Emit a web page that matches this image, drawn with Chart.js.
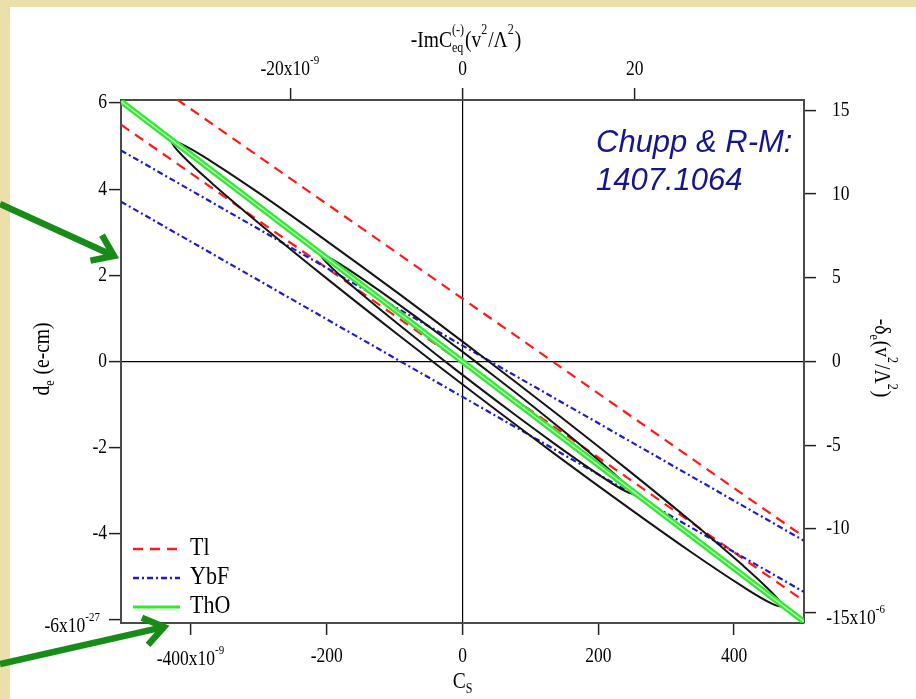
<!DOCTYPE html>
<html><head><meta charset="utf-8">
<script src="https://cdn.jsdelivr.net/npm/chart.js@4/dist/chart.umd.min.js"></script>
<style>html,body{margin:0;padding:0;background:#fff;overflow:hidden}#wrap{width:916px;height:699px}</style>
</head><body><div id="wrap"><canvas id="c" width="916" height="699"></canvas></div>
<script>
// ---------- data ----------
const seriesNames = ['Tl', 'YbF', 'ThO'];
const lineCs   = [-503, 503];             // C_S end values of the straight bands
const tlUpper  = [6.99, -4.07];           // d_e at the two ends
const tlLower  = [5.50, -5.56];
const ybfUpper = [4.90, -4.16];
const ybfLower = [3.71, -5.35];
const thoLine  = [6.04, -6.04];

const bigEllipseCs = [21.4, -94.9, -203.4, -296.4, -367.9, -412.8, -428.1, -412.8, -367.9, -296.4, -203.4, -94.9, 21.4, 137.7, 246.2, 339.2, 410.7, 455.6, 470.9, 455.6, 410.7, 339.2, 246.2, 137.7, 21.4];
const bigEllipseDe = [0.210, 1.587, 2.836, 3.872, 4.623, 5.040, 5.095, 4.782, 4.123, 3.164, 1.970, 0.621, -0.790, -2.167, -3.416, -4.452, -5.203, -5.620, -5.675, -5.362, -4.703, -3.744, -2.550, -1.201, 0.210];
const medEllipseCs = [20.6, -38.7, -94.0, -141.5, -177.9, -200.8, -208.6, -200.8, -177.9, -141.5, -94.0, -38.7, 20.6, 79.9, 135.2, 182.7, 219.1, 242.0, 249.8, 242.0, 219.1, 182.7, 135.2, 79.9, 20.6];
const medEllipseDe = [-0.020, 0.686, 1.325, 1.854, 2.237, 2.448, 2.472, 2.308, 1.967, 1.472, 0.857, 0.164, -0.560, -1.266, -1.905, -2.434, -2.817, -3.028, -3.052, -2.888, -2.547, -2.052, -1.437, -0.744, -0.020];

const bottomTicks  = [-400, -200, 0, 200, 400];
const bottomLabels = ['-400x10^-9', '-200', '0', '200', '400'];
const topTicks     = [-20, 0, 20];
const topLabels    = ['-20x10^-9', '0', '20'];
const leftTicks    = [6, 4, 2, 0, -2, -4, -6];
const leftLabels   = ['6', '4', '2', '0', '-2', '-4', '-6x10^-27'];
const rightTicks   = [15, 10, 5, 0, -5, -10, -15];
const rightLabels  = ['15', '10', '5', '0', '-5', '-10', '-15x10^-6'];
const annotationLines = ['Chupp & R-M:', '1407.1064'];

// ---------- helpers ----------
const SERIF = '"Liberation Serif", "Times New Roman", serif';
const zip = (xs, ys) => xs.map((x, i) => ({x: x, y: ys[i]}));
function segsFromLabel(l) { const i = l.indexOf('^'); return i < 0 ? [{t: l}] : [{t: l.slice(0, i)}, {sup: l.slice(i + 1)}]; }
function drawRich(ctx, segs, x, y, size, align, stretch) {
  const small = Math.round(size * 0.62);
  ctx.save();
  ctx.translate(x, y); ctx.scale(1, stretch || 1);
  ctx.textBaseline = 'middle'; ctx.textAlign = 'left';
  const ws = []; let total = 0;
  for (const s of segs) {
    let w;
    if (s.t !== undefined) { ctx.font = size + 'px ' + SERIF; w = ctx.measureText(s.t).width; }
    else { ctx.font = small + 'px ' + SERIF; w = Math.max(s.sup ? ctx.measureText(s.sup).width : 0, s.sub ? ctx.measureText(s.sub).width : 0) + 1; }
    ws.push(w); total += w;
  }
  let cx = align === 'center' ? -total / 2 : (align === 'right' ? -total : 0);
  segs.forEach((s, i) => {
    if (s.t !== undefined) { ctx.font = size + 'px ' + SERIF; ctx.fillText(s.t, cx, 0); }
    else {
      ctx.font = small + 'px ' + SERIF;
      if (s.sup) ctx.fillText(s.sup, cx, -size * 0.45);
      if (s.sub) ctx.fillText(s.sub, cx, size * 0.32);
    }
    cx += ws[i];
  });
  ctx.restore();
  return total;
}

const RED = '#ff1a1a', BLUE = '#1c1cc8', GREEN = '#30ea30', GREEN_HI = '#baf5ba';
const TL_DASH = [10, 7], YBF_DASH = [6, 3, 2, 3];

// ---------- plugin for background, labels, titles, legend, annotations ----------
const decor = {
  id: 'decor',
  beforeDraw(chart) {
    const ctx = chart.ctx;
    ctx.save();
    ctx.fillStyle = '#ffffff'; ctx.fillRect(0, 0, 916, 699);
    ctx.fillStyle = '#ebe0a9';
    ctx.fillRect(0, 0, 916, 7);
    ctx.fillRect(0, 0, 10, 699);
    ctx.restore();
  },
  afterDraw(chart) {
    const ctx = chart.ctx, s = chart.scales;
    const FS = 17.5, ST = 1.18, TS = 19.5;
    ctx.save();
    ctx.fillStyle = '#000';
    bottomTicks.forEach((v, i) => {
      const lb = bottomLabels[i], ex = lb.includes('^');
      drawRich(ctx, segsFromLabel(lb), s.x.getPixelForValue(v), ex ? 660 : 657, FS, 'center', ST);
    });
    topTicks.forEach((v, i) => {
      drawRich(ctx, segsFromLabel(topLabels[i]), s.x2.getPixelForValue(v), 70, FS, 'center', ST);
    });
    leftTicks.forEach((v, i) => {
      const lb = leftLabels[i], ex = lb.includes('^');
      drawRich(ctx, segsFromLabel(lb), ex ? 101 : 107, s.y.getPixelForValue(v) + (ex ? 7 : 0), FS, 'right', ST);
    });
    ctx.font = FS + 'px ' + SERIF;
    const minusW = ctx.measureText('-').width;
    rightTicks.forEach((v, i) => {
      const lb = rightLabels[i], ex = lb.includes('^');
      drawRich(ctx, segsFromLabel(lb), 832 - (lb[0] === '-' ? minusW : 0), s.y2.getPixelForValue(v) + (ex ? 6 : 0), FS, 'left', ST);
    });
    // axis titles
    drawRich(ctx, [{t: '-ImC'}, {sub: 'eq', sup: '(-)'}, {t: '(v'}, {sup: '2'}, {t: '/Λ'}, {sup: '2'}, {t: ')'}], 466, 41, TS, 'center', ST);
    drawRich(ctx, [{t: 'C'}, {sub: 'S'}], 463, 682, TS, 'center', ST);
    ctx.save(); ctx.translate(43, 359); ctx.rotate(-Math.PI / 2);
    drawRich(ctx, [{t: 'd'}, {sub: 'e'}, {t: ' (e-cm)'}], 0, 0, TS, 'center', ST);
    ctx.restore();
    ctx.save(); ctx.translate(881, 358); ctx.rotate(Math.PI / 2);
    drawRich(ctx, [{t: '-δ'}, {sub: 'e'}, {t: '(v'}, {sup: '2'}, {t: '/Λ'}, {sup: '2'}, {t: ')'}], 0, 0, TS, 'center', ST);
    ctx.restore();

    // legend
    const lx0 = 133, lx1 = 180, ly = [549, 578, 607];
    const styles = [{c: RED, d: TL_DASH, w: 2.5}, {c: BLUE, d: YBF_DASH, w: 2.5}, {c: GREEN, d: [], w: 3}];
    seriesNames.forEach((n, i) => {
      ctx.save();
      ctx.strokeStyle = styles[i].c; ctx.lineWidth = styles[i].w; ctx.setLineDash(styles[i].d);
      ctx.beginPath(); ctx.moveTo(lx0, ly[i]); ctx.lineTo(lx1, ly[i]); ctx.stroke();
      ctx.restore();
      drawRich(ctx, [{t: n}], 190, ly[i], 22, 'left', 1.12);
    });

    // annotation text
    ctx.fillStyle = '#16168c';
    ctx.font = 'italic 31px "Liberation Sans", Arial, sans-serif';
    ctx.textBaseline = 'alphabetic'; ctx.textAlign = 'left';
    ctx.fillText(annotationLines[0], 596, 152);
    ctx.fillText(annotationLines[1], 596, 190);

    // green arrows
    function arrow(x0, y0, x1, y1) {
      const a = Math.atan2(y1 - y0, x1 - x0), L = 24, h = 0.62;
      ctx.save();
      ctx.strokeStyle = '#178c17'; ctx.lineWidth = 6.5; ctx.lineCap = 'butt'; ctx.lineJoin = 'miter';
      ctx.beginPath(); ctx.moveTo(x0, y0); ctx.lineTo(x1 - 3 * Math.cos(a), y1 - 3 * Math.sin(a)); ctx.stroke();
      ctx.beginPath();
      ctx.moveTo(x1 - L * Math.cos(a - h), y1 - L * Math.sin(a - h));
      ctx.lineTo(x1, y1);
      ctx.lineTo(x1 - L * Math.cos(a + h), y1 - L * Math.sin(a + h));
      ctx.stroke();
      ctx.restore();
    }
    arrow(0, 204, 114, 256);
    arrow(0, 664, 164, 627);
    ctx.restore();
  }
};

// ---------- chart ----------
const common = {pointRadius: 0, pointHoverRadius: 0, showLine: true, clip: 0, fill: false};
const datasets = [
  Object.assign({label: 'ThO', data: zip(lineCs, thoLine), borderColor: GREEN_HI, borderWidth: 1.5, order: 0}, common),
  Object.assign({label: 'ThO', data: zip(lineCs, thoLine), borderColor: GREEN, borderWidth: 6, order: 1}, common),
  Object.assign({label: 'ellipse', data: zip(bigEllipseCs, bigEllipseDe), borderColor: '#151515', borderWidth: 2, tension: 0.4, order: 2}, common),
  Object.assign({label: 'ellipse', data: zip(medEllipseCs, medEllipseDe), borderColor: '#151515', borderWidth: 2, tension: 0.4, order: 2}, common),
  Object.assign({label: 'YbF', data: zip(lineCs, ybfUpper), borderColor: BLUE, borderWidth: 2.2, borderDash: YBF_DASH, order: 3}, common),
  Object.assign({label: 'YbF', data: zip(lineCs, ybfLower), borderColor: BLUE, borderWidth: 2.2, borderDash: YBF_DASH, order: 3}, common),
  Object.assign({label: 'Tl', data: zip(lineCs, tlUpper), borderColor: RED, borderWidth: 2.2, borderDash: TL_DASH, order: 4}, common),
  Object.assign({label: 'Tl', data: zip(lineCs, tlLower), borderColor: RED, borderWidth: 2.2, borderDash: TL_DASH, order: 4}, common)
];

function axis(pos, min, max, ticks, size, zeroLine) {
  const horiz = pos === 'top' || pos === 'bottom';
  return {
    type: 'linear', position: pos, min: min, max: max,
    afterBuildTicks: sc => { sc.ticks = ticks.map(v => ({value: v})); },
    afterFit: sc => { if (horiz) sc.height = size; else sc.width = size; },
    ticks: {display: false},
    border: {display: true, color: '#4a4a4a', width: 2},
    grid: {
      drawOnChartArea: zeroLine, drawTicks: true, tickLength: 12, tickWidth: 1.5, tickColor: '#222',
      lineWidth: 1.2,
      color: c => (zeroLine && c.tick && c.tick.value === 0) ? '#000' : 'rgba(0,0,0,0)'
    }
  };
}

new Chart(document.getElementById('c'), {
  type: 'scatter',
  data: {datasets: datasets},
  options: {
    responsive: false, animation: false, devicePixelRatio: 1,
    layout: {padding: 0},
    plugins: {legend: {display: false}, tooltip: {enabled: false}},
    scales: {
      x:  axis('bottom', -503, 503, bottomTicks, 76, true),
      x2: axis('top', -39.66, 39.66, topTicks, 100, false),
      y:  axis('left', -6.07, 6.07, leftTicks, 121, true),
      y2: axis('right', -15.62, 15.62, rightTicks, 112, false)
    }
  },
  plugins: [decor]
});
</script></body></html>
